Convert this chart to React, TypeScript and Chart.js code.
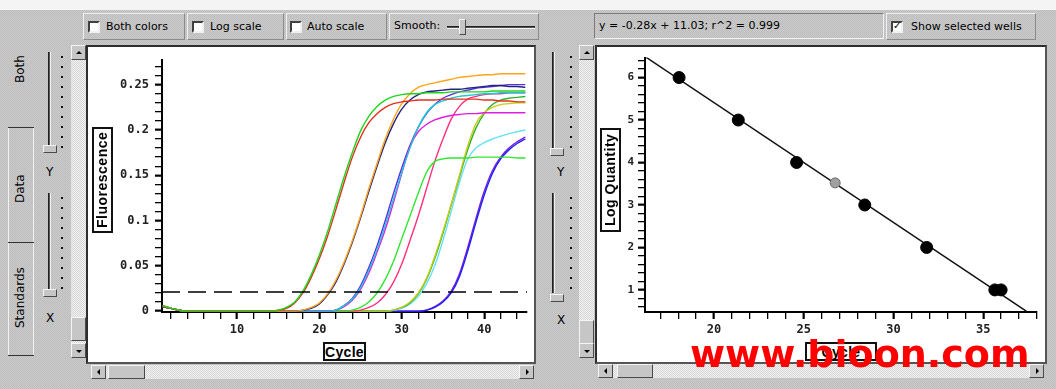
import React, { useEffect, useRef } from 'react';
import { Chart, registerables } from 'chart.js';

Chart.register(...registerables);

// ---------------- Amplification plot data ----------------
const cycles = [
  1, 2, 3, 4, 5, 6, 7, 8, 9, 10,
  11, 12, 13, 14, 15, 16, 17, 18, 19, 20,
  21, 22, 23, 24, 25, 26, 27, 28, 29, 30,
  31, 32, 33, 34, 35, 36, 37, 38, 39, 40,
  41, 42, 43, 44, 45,
];

const greenA = [
  0.006, 0.003, 0.001, 0, 0, 0, 0, 0, 0, 0,
  0, 0, 0, 0, 0.001, 0.004, 0.010, 0.022, 0.040, 0.062,
  0.088, 0.118, 0.148, 0.175, 0.199, 0.215, 0.226, 0.233, 0.237, 0.239,
  0.240, 0.240, 0.241, 0.241, 0.241, 0.242, 0.242, 0.242, 0.242, 0.242,
  0.243, 0.243, 0.243, 0.243, 0.243,
];
const redA = [
  0.005, 0.003, 0.001, 0, 0, 0, 0, 0, 0, 0,
  0, 0, 0, 0, 0.001, 0.003, 0.009, 0.020, 0.037, 0.058,
  0.083, 0.112, 0.142, 0.170, 0.192, 0.208, 0.218, 0.225, 0.229, 0.231,
  0.232, 0.233, 0.233, 0.233, 0.234, 0.234, 0.234, 0.234, 0.234, 0.233,
  0.233, 0.232, 0.232, 0.231, 0.231,
];
const orangeA = [
  0.006, 0.003, 0.001, 0, 0, 0, 0, 0, 0, 0,
  0, 0, 0, 0, 0, 0, 0, 0.001, 0.004, 0.009,
  0.019, 0.034, 0.054, 0.078, 0.105, 0.135, 0.163, 0.190, 0.212, 0.229,
  0.240, 0.247, 0.250, 0.252, 0.254, 0.256, 0.258, 0.259, 0.260, 0.261,
  0.261, 0.262, 0.262, 0.262, 0.262,
];
const navyA = [
  0.005, 0.003, 0.001, 0, 0, 0, 0, 0, 0, 0,
  0, 0, 0, 0, 0, 0, 0, 0.001, 0.003, 0.008,
  0.018, 0.032, 0.052, 0.076, 0.103, 0.132, 0.160, 0.186, 0.207, 0.223,
  0.233, 0.239, 0.242, 0.243, 0.244, 0.245, 0.245, 0.246, 0.247, 0.248,
  0.249, 0.249, 0.248, 0.248, 0.247,
];
const cyanA = [
  0.006, 0.003, 0.001, 0, 0, 0, 0, 0, 0, 0,
  0, 0, 0, 0, 0, 0, 0, 0, 0, 0,
  0, 0.001, 0.006, 0.013, 0.026, 0.045, 0.068, 0.095, 0.124, 0.153,
  0.180, 0.203, 0.219, 0.228, 0.232, 0.235, 0.237, 0.238, 0.239, 0.240,
  0.240, 0.241, 0.241, 0.241, 0.241,
];
const magentaA = [
  0.005, 0.003, 0.001, 0, 0, 0, 0, 0, 0, 0,
  0, 0, 0, 0, 0, 0, 0, 0, 0, 0,
  0, 0.001, 0.005, 0.012, 0.024, 0.042, 0.065, 0.090, 0.120, 0.152,
  0.182, 0.198, 0.206, 0.211, 0.214, 0.216, 0.217, 0.218, 0.218, 0.219,
  0.219, 0.219, 0.219, 0.219, 0.219,
];
const violetA = [
  0.006, 0.003, 0.001, 0, 0, 0, 0, 0, 0, 0,
  0, 0, 0, 0, 0, 0, 0, 0, 0, 0,
  0, 0.001, 0.006, 0.014, 0.028, 0.048, 0.072, 0.100, 0.130, 0.158,
  0.183, 0.203, 0.218, 0.228, 0.235, 0.239, 0.242, 0.244, 0.246, 0.247,
  0.248, 0.249, 0.250, 0.250, 0.250,
];
const greenB = [
  0.005, 0.003, 0.001, 0, 0, 0, 0, 0, 0, 0,
  0, 0, 0, 0, 0, 0, 0, 0, 0, 0,
  0, 0, 0, 0.001, 0.004, 0.010, 0.020, 0.035, 0.055, 0.080,
  0.105, 0.130, 0.153, 0.165, 0.168, 0.169, 0.169, 0.169, 0.170, 0.170,
  0.170, 0.170, 0.170, 0.169, 0.169,
];
const pinkA = [
  0.006, 0.003, 0.001, 0, 0, 0, 0, 0, 0, 0,
  0, 0, 0, 0, 0, 0, 0, 0, 0, 0,
  0, 0, 0, 0, 0.001, 0.004, 0.009, 0.018, 0.032, 0.052,
  0.078, 0.105, 0.135, 0.165, 0.190, 0.212, 0.226, 0.234, 0.237, 0.239,
  0.240, 0.240, 0.241, 0.241, 0.241,
];
const yellowA = [
  0.005, 0.003, 0.001, 0, 0, 0, 0, 0, 0, 0,
  0, 0, 0, 0, 0, 0, 0, 0, 0, 0,
  0, 0, 0, 0, 0, 0, 0, 0, 0.001, 0.004,
  0.010, 0.020, 0.036, 0.060, 0.088, 0.118, 0.150, 0.182, 0.207, 0.219,
  0.225, 0.228, 0.229, 0.230, 0.230,
];
const greenC = [
  0.006, 0.003, 0.001, 0, 0, 0, 0, 0, 0, 0,
  0, 0, 0, 0, 0, 0, 0, 0, 0, 0,
  0, 0, 0, 0, 0, 0, 0, 0, 0.001, 0.004,
  0.009, 0.019, 0.035, 0.058, 0.086, 0.117, 0.148, 0.178, 0.202, 0.218,
  0.228, 0.233, 0.235, 0.236, 0.237,
];
const cyanB = [
  0.005, 0.003, 0.001, 0, 0, 0, 0, 0, 0, 0,
  0, 0, 0, 0, 0, 0, 0, 0, 0, 0,
  0, 0, 0, 0, 0, 0, 0, 0, 0.001, 0.003,
  0.008, 0.016, 0.030, 0.050, 0.078, 0.110, 0.142, 0.168, 0.180, 0.186,
  0.190, 0.193, 0.196, 0.198, 0.200,
];
const blueB = [
  0.006, 0.003, 0.001, 0, 0, 0, 0, 0, 0, 0,
  0, 0, 0, 0, 0, 0, 0, 0, 0, 0,
  0, 0, 0, 0, 0, 0, 0, 0, 0, 0,
  0, 0, 0.001, 0.004, 0.010, 0.020, 0.038, 0.066, 0.098, 0.128,
  0.152, 0.168, 0.178, 0.185, 0.190,
];
const violetB = [
  0.005, 0.003, 0.001, 0, 0, 0, 0, 0, 0, 0,
  0, 0, 0, 0, 0, 0, 0, 0, 0, 0,
  0, 0, 0, 0, 0, 0, 0, 0, 0, 0,
  0, 0, 0.001, 0.005, 0.011, 0.022, 0.041, 0.070, 0.102, 0.132,
  0.155, 0.170, 0.180, 0.187, 0.192,
];

const thresholdValue = 0.021;
const thresholdX = [0.9, 45.2];
const ampXTicks = [10, 20, 30, 40];
const ampYTicks = [0, 0.05, 0.1, 0.15, 0.2, 0.25];

// ---------------- Standard curve data ----------------
const stdCt = [18.05, 21.35, 24.6, 28.4, 31.85, 35.65, 36.0];
const stdLogQ = [6, 5, 4, 3, 2, 1, 1];
const unkCt = [26.75];
const unkLogQ = [3.52];
const fitCt = [16.2, 37.4];
const fitLogQ = [6.48, 0.5];
const stdXTicks = [20, 25, 30, 35];
const stdYTicks = [1, 2, 3, 4, 5, 6];

const equationText = 'y = -0.28x + 11.03;  r^2 = 0.999';

const curves = [
  { name: 'A1', color: '#1fd51f', values: greenA },
  { name: 'A2', color: '#e2301c', values: redA },
  { name: 'B1', color: '#ffa41a', values: orangeA },
  { name: 'B2', color: '#24247e', values: navyA },
  { name: 'C1', color: '#1fc6d6', values: cyanA },
  { name: 'C2', color: '#e01ee0', values: magentaA },
  { name: 'C3', color: '#5a2ee6', values: violetA },
  { name: 'D1', color: '#2ee62e', values: greenB },
  { name: 'E1', color: '#ff2f7e', values: pinkA },
  { name: 'F1', color: '#c4cc1a', values: yellowA },
  { name: 'F2', color: '#2fb02f', values: greenC },
  { name: 'F3', color: '#66e2f2', values: cyanB },
  { name: 'G1', color: '#1f1fff', values: blueB },
  { name: 'G2', color: '#7a1fd6', values: violetB },
];

// axis decoration: tick positions k/div for k in [fromK, toK]
function minorList(fromK: number, toK: number, div: number) {
  const out: number[] = [];
  for (let k = fromK; k <= toK; k++) out.push(k / div);
  return out;
}

const tickFont = { family: 'DejaVu Sans Mono', weight: 'bold' as const, size: 12 };

function axis(min: number, max: number, majors: number[], minors: number[], size: number, isY: boolean, fontSize: number, pad: number) {
  const isMajor = (v: number) => majors.some((m) => Math.abs(m - v) < 1e-9);
  return {
    type: 'linear' as const,
    min,
    max,
    afterBuildTicks: (s: any) => {
      const all = minors.slice();
      majors.forEach((m) => {
        if (!all.some((v) => Math.abs(v - m) < 1e-9)) all.push(m);
      });
      all.sort((a, b) => a - b);
      s.ticks = all.map((v) => ({ value: v }));
    },
    afterFit: (s: any) => {
      if (isY) s.width = size;
      else s.height = size;
    },
    grid: {
      drawOnChartArea: false,
      drawTicks: true,
      tickLength: 7,
      color: '#000',
      tickColor: '#000',
      lineWidth: 1.3,
      tickWidth: (c: any) => (c.tick && isMajor(c.tick.value) ? 2.2 : 1.3),
    },
    border: { display: true, color: '#000', width: 2 },
    ticks: {
      font: { ...tickFont, size: fontSize },
      color: '#222',
      padding: pad,
      maxRotation: 0,
      autoSkip: false,
      callback: (v: any) => {
        const m = majors.find((x) => Math.abs(x - v) < 1e-9);
        return m === undefined ? '' : String(m);
      },
    },
  };
}

const BG = 'repeating-conic-gradient(#cbcbcb 0% 25%, #bdbdbd 0% 50%) 0 0 / 2px 2px';
const TRACK = 'repeating-conic-gradient(#f2f2f2 0% 25%, #d6d6d6 0% 50%) 0 0 / 2px 2px';

const abs = (l: number, t: number, w: number, h: number, extra: any = {}) => ({
  position: 'absolute' as const,
  left: l,
  top: t,
  width: w,
  height: h,
  boxSizing: 'border-box' as const,
  ...extra,
});

function Tri({ dir }: { dir: 'up' | 'down' | 'left' | 'right' }) {
  const s = 3;
  const st: any = { width: 0, height: 0, position: 'absolute', left: '50%', top: '50%' };
  if (dir === 'up') Object.assign(st, { borderLeft: `${s}px solid transparent`, borderRight: `${s}px solid transparent`, borderBottom: `${s}px solid #000`, marginLeft: -s, marginTop: -2 });
  if (dir === 'down') Object.assign(st, { borderLeft: `${s}px solid transparent`, borderRight: `${s}px solid transparent`, borderTop: `${s}px solid #000`, marginLeft: -s, marginTop: -1 });
  if (dir === 'left') Object.assign(st, { borderTop: `${s}px solid transparent`, borderBottom: `${s}px solid transparent`, borderRight: `${s}px solid #000`, marginTop: -s, marginLeft: -2 });
  if (dir === 'right') Object.assign(st, { borderTop: `${s}px solid transparent`, borderBottom: `${s}px solid transparent`, borderLeft: `${s}px solid #000`, marginTop: -s, marginLeft: -1 });
  return <div style={st} />;
}

const raised = { background: '#c6c6c6', border: '1px solid', borderColor: '#f4f4f4 #4a4a4a #4a4a4a #f4f4f4' };

function Btn({ l, t, w, h, dir }: any) {
  return (
    <div style={abs(l, t, w, h, raised)}>
      {dir ? <Tri dir={dir} /> : null}
    </div>
  );
}

function VScroll({ l, t, h, thumbT, thumbH }: any) {
  return (
    <>
      <div style={abs(l, t, 15, h, { background: TRACK })} />
      <Btn l={l} t={t} w={15} h={15} dir="up" />
      <Btn l={l} t={thumbT} w={15} h={thumbH} />
      <Btn l={l} t={t + h - 15} w={15} h={15} dir="down" />
    </>
  );
}

function HScroll({ l, t, w, thumbL, thumbW }: any) {
  return (
    <>
      <div style={abs(l, t, w, 14, { background: TRACK })} />
      <Btn l={l} t={t} w={15} h={14} dir="left" />
      <Btn l={thumbL} t={t} w={thumbW} h={14} />
      <Btn l={l + w - 15} t={t} w={15} h={14} dir="right" />
    </>
  );
}

function Check({ l, t, checked }: any) {
  return (
    <div style={abs(l, t, 12, 12, { background: '#fff', border: '2px solid', borderColor: '#404040 #f0f0f0 #f0f0f0 #404040' })}>
      {checked ? (
        <div style={{ position: 'absolute', left: 0, top: -3, fontSize: 10, lineHeight: '12px', fontFamily: 'DejaVu Sans', fontWeight: 'bold' }}>✓</div>
      ) : null}
    </div>
  );
}

function Group({ l, t, w, h }: any) {
  return <div style={abs(l, t, w, h, { border: '1px solid', borderColor: '#efefef #8a8a8a #8a8a8a #efefef' })} />;
}

function Label({ l, t, text, size = 11, extra = {} }: any) {
  return (
    <div style={{ position: 'absolute', left: l, top: t, fontFamily: 'DejaVu Sans', fontSize: size, lineHeight: '14px', whiteSpace: 'nowrap', color: '#000', ...extra }}>
      {text}
    </div>
  );
}

function VText({ l, t, w, h, text, size = 12, bold = false, box = false }: any) {
  return (
    <div
      style={abs(l, t, w, h, {
        writingMode: 'vertical-rl',
        transform: 'rotate(180deg)',
        display: 'flex',
        alignItems: 'center',
        justifyContent: 'center',
        fontFamily: box ? 'Liberation Sans' : 'DejaVu Sans',
        fontSize: size,
        fontWeight: bold ? 'bold' : 'normal',
        letterSpacing: box ? 0.5 : 0,
        border: box ? '2px solid #111' : 'none',
        background: box ? '#fff' : 'transparent',
        whiteSpace: 'nowrap',
        color: '#000',
      })}
    >
      {text}
    </div>
  );
}

function HBoxText({ l, t, w, h, text }: any) {
  return (
    <div
      style={abs(l, t, w, h, {
        display: 'flex',
        alignItems: 'center',
        justifyContent: 'center',
        fontFamily: 'Liberation Sans',
        fontSize: 14,
        fontWeight: 'bold',
        letterSpacing: 0.3,
        border: '2px solid #111',
        background: '#fff',
        color: '#000',
      })}
    >
      {text}
    </div>
  );
}

function Slider({ trackX, dotX, tY, tH, thumbY, thumbX, label, labelX, labelY }: any) {
  const dots = [];
  for (let y = tY + 4; y < tY + tH; y += 10) dots.push(y);
  return (
    <>
      <div style={abs(trackX, tY, 3, tH, { background: '#555', borderLeft: '1px solid #222', borderRight: '1px solid #f2f2f2' })} />
      {dots.map((y) => (
        <div key={y} style={abs(dotX, y, 2, 2, { background: '#111' })} />
      ))}
      <div style={abs(thumbX, thumbY, 14, 8, raised)} />
      <Label l={labelX} t={labelY} text={label} size={12} />
    </>
  );
}

export default function App() {
  const leftRef = useRef<HTMLCanvasElement>(null);
  const rightRef = useRef<HTMLCanvasElement>(null);

  useEffect(() => {
    const ampDatasets: any[] = [
      {
        label: 'Threshold',
        data: thresholdX.map((x) => ({ x, y: thresholdValue })),
        borderColor: '#000',
        borderWidth: 1.6,
        borderDash: [18, 8],
        pointRadius: 0,
        fill: false,
      },
      ...curves.map((c) => ({
        label: c.name,
        data: cycles.map((x, i) => ({ x, y: c.values[i] })),
        borderColor: c.color,
        borderWidth: 1.4,
        pointRadius: 0,
        fill: false,
        cubicInterpolationMode: 'monotone',
      })),
    ];

    const left = new Chart(leftRef.current as HTMLCanvasElement, {
      type: 'line',
      data: { datasets: ampDatasets },
      options: {
        animation: false,
        responsive: false,
        devicePixelRatio: 1,
        layout: { padding: { top: 3, right: 7, left: 0, bottom: 0 } },
        plugins: {
          legend: { display: false },
          tooltip: { enabled: false },
        },
        scales: {
          x: axis(0.9, 45.2, ampXTicks, minorList(1, 22, 0.5), 50, false, 12, 4) as any,
          y: axis(-0.001, 0.277, ampYTicks, minorList(0, 27, 100), 74, true, 12, 6) as any,
        },
      },
    });

    const right = new Chart(rightRef.current as HTMLCanvasElement, {
      type: 'scatter',
      data: {
        datasets: [
          {
            label: 'Standards',
            data: stdCt.map((x, i) => ({ x, y: stdLogQ[i] })),
            backgroundColor: '#000',
            borderColor: '#000',
            pointRadius: 6,
            showLine: false,
          },
          {
            label: 'Unknown',
            data: unkCt.map((x, i) => ({ x, y: unkLogQ[i] })),
            backgroundColor: '#a0a0a0',
            borderColor: '#6a6a6a',
            borderWidth: 1,
            pointRadius: 5,
            showLine: false,
          },
          {
            label: 'Fit',
            data: fitCt.map((x, i) => ({ x, y: fitLogQ[i] })),
            borderColor: '#111',
            borderWidth: 1.5,
            pointRadius: 0,
            showLine: true,
          },
        ] as any,
      },
      options: {
        animation: false,
        responsive: false,
        devicePixelRatio: 1,
        layout: { padding: { top: 5, right: 8, left: 0, bottom: 0 } },
        plugins: {
          legend: { display: false },
          tooltip: { enabled: false },
        },
        scales: {
          x: axis(16.15, 38, stdXTicks, minorList(17, 38, 1), 50, false, 12, 4) as any,
          y: axis(0.48, 6.47, stdYTicks, minorList(3, 32, 5), 48, true, 11, 4) as any,
        },
      },
    });

    return () => {
      left.destroy();
      right.destroy();
    };
  }, []);

  return (
    <div style={abs(0, 0, 1056, 389, { background: BG, overflow: 'hidden', fontFamily: 'DejaVu Sans' })}>
      {/* top white strip */}
      <div style={abs(0, 0, 1056, 10, { background: '#f4f4f4' })} />

      {/* left toolbar */}
      <Group l={83} t={13} w={102} h={27} />
      <Group l={187} t={13} w={97} h={27} />
      <Group l={286} t={13} w={101} h={27} />
      <Group l={389} t={13} w={150} h={27} />
      <Check l={88} t={21} />
      <Label l={106} t={20} text="Both colors" />
      <Check l={192} t={21} />
      <Label l={210} t={20} text="Log scale" />
      <Check l={290} t={21} />
      <Label l={307} t={20} text="Auto scale" />
      <Label l={394} t={19} text="Smooth:" />
      <div style={abs(447, 26, 88, 3, { background: '#555', borderTop: '1px solid #222', borderBottom: '1px solid #f2f2f2' })} />
      <div style={abs(459, 19, 7, 16, raised)} />

      {/* right toolbar */}
      <div style={abs(594, 13, 290, 26, { border: '1px solid', borderColor: '#7a7a7a #f2f2f2 #f2f2f2 #7a7a7a' })} />
      <Label l={599} t={19} text={equationText} />
      <Group l={886} t={13} w={150} h={27} />
      <Check l={891} t={21} checked />
      <Label l={911} t={20} text="Show selected wells" />

      {/* left tabs */}
      <div style={abs(8, 127, 26, 229, { borderLeft: '1px solid #f2f2f2', borderRight: '1px solid #f2f2f2' })} />
      <div style={abs(8, 127, 26, 1, { background: '#333' })} />
      <div style={abs(8, 242, 26, 1, { background: '#333' })} />
      <div style={abs(8, 355, 26, 1, { background: '#333' })} />
      <VText l={10} t={48} w={20} h={42} text="Both" size={12} />
      <VText l={10} t={168} w={20} h={42} text="Data" size={12} />
      <VText l={10} t={258} w={20} h={80} text="Standards" size={12} />

      {/* left sliders */}
      <Slider trackX={48} dotX={61} tY={52} tH={98} thumbX={43} thumbY={145} label="Y" labelX={46} labelY={165} />
      <Slider trackX={48} dotX={61} tY={193} tH={100} thumbX={43} thumbY={289} label="X" labelX={46} labelY={311} />

      {/* right sliders (partly visible) */}
      <Slider trackX={552} dotX={570} tY={52} tH={98} thumbX={550} thumbY={148} label="Y" labelX={557} labelY={165} />
      <Slider trackX={552} dotX={570} tY={193} tH={100} thumbX={550} thumbY={294} label="X" labelX={557} labelY={313} />

      {/* scrollbars */}
      <VScroll l={71} t={45} h={313} thumbT={317} thumbH={24} />
      <VScroll l={579} t={45} h={313} thumbT={320} thumbH={24} />
      <HScroll l={91} t={365} w={443} thumbL={108} thumbW={37} />
      <HScroll l={598} t={364} w={446} thumbL={617} thumbW={36} />

      {/* left panel */}
      <div style={abs(86, 45, 450, 319, { background: '#fff', border: '2px solid', borderColor: '#2e2e2e #555 #555 #2e2e2e' })} />
      <canvas ref={leftRef} width={446} height={315} style={{ position: 'absolute', left: 88, top: 47, width: 446, height: 315 }} />
      <VText l={92} t={127} w={21} h={106} text="Fluorescence" size={14} bold box />
      <HBoxText l={323} t={342} w={43} h={19} text="Cycle" />

      {/* right panel */}
      <div style={abs(595, 45, 452, 319, { background: '#fff', border: '2px solid', borderColor: '#2e2e2e #555 #555 #2e2e2e' })} />
      <canvas ref={rightRef} width={448} height={315} style={{ position: 'absolute', left: 597, top: 47, width: 448, height: 315 }} />
      <VText l={600} t={128} w={21} h={104} text="Log Quantity" size={14} bold box />
      <HBoxText l={805} t={342} w={72} h={19} text="Cycle" />

      {/* watermark */}
      <div
        style={{
          position: 'absolute',
          left: 690,
          top: 335,
          fontFamily: 'DejaVu Sans',
          fontWeight: 'bold',
          fontSize: 38,
          lineHeight: 1,
          color: '#ff0000',
          whiteSpace: 'nowrap',
        }}
      >
        www.bioon.com
      </div>
    </div>
  );
}
